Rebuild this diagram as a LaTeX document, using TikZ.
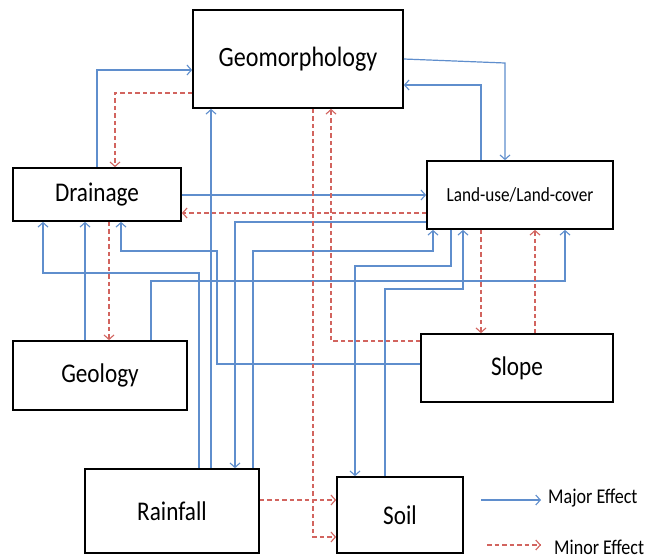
\documentclass[tikz,border=0pt]{standalone}
\usepackage{fontspec}
\setmainfont{Carlito}
\usetikzlibrary{arrows.meta}
\definecolor{majc}{RGB}{95,142,205}
\definecolor{minc}{RGB}{210,100,95}
\newcommand{\sq}[2]{\fontsize{#1}{#1}\selectfont\scalebox{0.86}[1]{#2}}
\tikzset{
  box/.style={draw=black,line width=1.7pt,inner sep=0pt,fill=white},
  maj/.style={draw=majc,line width=1.2pt,-{Straight Barb[length=4.5pt,width=10pt,line width=1.1pt]}},
  minr/.style={draw=minc,line width=1.2pt,dash pattern=on 4.5pt off 3pt,-{Straight Barb[length=4.5pt,width=10pt,line width=1.1pt]}},
}
\begin{document}
\begin{tikzpicture}[x=1pt,y=-1pt]
\useasboundingbox[fill=white] (0,0) rectangle (646,558);
% boxes
\node[box,minimum width=210pt,minimum height=98pt] (geo) at (298,59) {\sq{28}{Geomorphology}};
\node[box,minimum width=168pt,minimum height=53pt] (dra) at (97,194.5) {\sq{27}{Drainage}};
\node[box,minimum width=186pt,minimum height=68pt] (lulc) at (520,195) {\sq{20}{Land-use/Land-cover}};
\node[box,minimum width=174pt,minimum height=69pt] (gel) at (100,375.5) {\sq{27}{Geology}};
\node[box,minimum width=174pt,minimum height=84pt] (rain) at (172,511) {\sq{27}{Rainfall}};
\node[box,minimum width=192pt,minimum height=68pt] (slope) at (517,368) {\sq{27}{Slope}};
\node[box,minimum width=126pt,minimum height=76pt] (soil) at (400,515) {\sq{27}{Soil}};
% major effects
\draw[maj] (97,0 |- dra.north) |- (geo.west |- 0,70);
\draw[maj] (geo.east |- 0,59) -- (505,63) -- (505,0 |- lulc.north);
\draw[maj] (481,0 |- lulc.north) |- (geo.east |- 0,85);
\draw[maj] (dra.east |- 0,195) -- (lulc.west |- 0,195);
\draw[maj] (lulc.west |- 0,222) -| (235,0 |- rain.north);
\draw[maj] (253,0 |- rain.north) |- (433,251) -- (433,0 |- lulc.south);
\draw[maj] (451,0 |- lulc.south) |- (355,266) -- (355,0 |- soil.north);
\draw[maj] (385,0 |- soil.north) |- (463,289) -- (463,0 |- lulc.south);
\draw[maj] (151,0 |- gel.north) |- (565,281) -- (565,0 |- lulc.south);
\draw[maj] (199,0 |- rain.north) |- (43,273) -- (43,0 |- dra.south);
\draw[maj] (85,0 |- gel.north) -- (85,0 |- dra.south);
\draw[maj] (slope.west |- 0,364) -| (217,251) -| (121,0 |- dra.south);
\draw[maj] (211,0 |- rain.north) -- (211,0 |- geo.south);
% minor effects
\draw[minr] (geo.west |- 0,93) -| (115,0 |- dra.north);
\draw[minr] (lulc.west |- 0,213) -- (dra.east |- 0,213);
\draw[minr] (109,0 |- dra.south) -- (109,0 |- gel.north);
\draw[minr] (313,0 |- geo.south) |- (soil.west |- 0,537);
\draw[minr] (slope.west |- 0,341) -| (331,0 |- geo.south);
\draw[minr] (rain.east |- 0,500) -- (soil.west |- 0,500);
\draw[minr] (481,0 |- lulc.south) -- (481,0 |- slope.north);
\draw[minr] (535,0 |- slope.north) -- (535,0 |- lulc.south);
% legend
\node[anchor=west,inner sep=0pt] (majt) at (548,498) {\sq{21}{Major Effect}};
\node[anchor=west,inner sep=0pt] (mint) at (554,547) {\sq{21}{Minor Effect}};
\coordinate (ma) at (481,500);
\coordinate (mb) at (541,500);
\coordinate (na) at (487,545);
\coordinate (nb) at (541,545);
\draw[maj] (ma) -- (mb);
\draw[minr] (na) -- (nb);
\end{tikzpicture}
\end{document}
